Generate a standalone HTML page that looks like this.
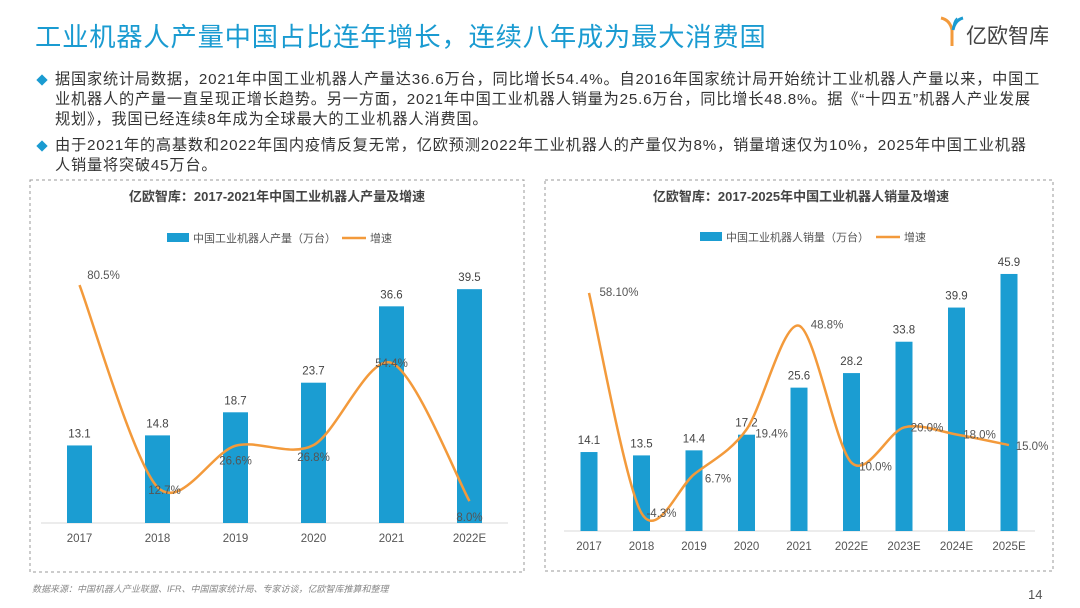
<!DOCTYPE html>
<html><head><meta charset="utf-8">
<style>
body{margin:0;width:1080px;height:608px;background:#fff;font-family:"Liberation Sans","Noto Sans CJK SC",sans-serif;position:relative;overflow:hidden}
.title{position:absolute;left:35px;top:15px;font-size:26.3px;color:#1a9bd1;letter-spacing:0.8px}
.logo{position:absolute;left:938px;top:14px}
.bul{position:absolute;left:38px;font-size:15.2px;color:#333;line-height:20px;white-space:nowrap;letter-spacing:0.8px}
.bul .d{position:absolute;left:0;top:6px;width:8px;height:8px;background:#1a9bd1;transform:rotate(45deg)}
.bul .t{margin-left:17px}
.src{position:absolute;left:32px;top:582px;font-size:9px;color:#888;font-style:italic}
.pg{position:absolute;left:1028px;top:587px;font-size:13px;color:#555}
svg text{font-family:"Liberation Sans","Noto Sans CJK SC",sans-serif}
</style></head><body>
<div class="title">工业机器人产量中国占比连年增长，连续八年成为最大消费国</div>
<div class="logo">
<svg width="110" height="34"><path d="M3 4 Q12 6 14 16 L14 32" stroke="#f39a3b" stroke-width="3" fill="none"/><path d="M25 4 Q17 6 15 16" stroke="#1a9bd1" stroke-width="3" fill="none"/><path d="M19 4 Q15 8 15 16" stroke="#1a9bd1" stroke-width="1.5" fill="none"/>
<text x="28" y="29" font-size="21" fill="#444">亿欧智库</text></svg></div>
<div class="bul" style="top:70px"><span class="d"></span><div class="t">据国家统计局数据，2021年中国工业机器人产量达36.6万台，同比增长54.4%。自2016年国家统计局开始统计工业机器人产量以来，中国工<br>业机器人的产量一直呈现正增长趋势。另一方面，2021年中国工业机器人销量为25.6万台，同比增长48.8%。据《“十四五”机器人产业发展<br>规划》，我国已经连续8年成为全球最大的工业机器人消费国。</div></div>
<div class="bul" style="top:136px"><span class="d"></span><div class="t">由于2021年的高基数和2022年国内疫情反复无常，亿欧预测2022年工业机器人的产量仅为8%，销量增速仅为10%，2025年中国工业机器<br>人销量将突破45万台。</div></div>
<svg id="c" width="1080" height="608" style="position:absolute;left:0;top:0">
<rect x="30" y="180" width="494" height="392" fill="none" stroke="#999" stroke-dasharray="3,3"/>
<rect x="545" y="180" width="508" height="391" fill="none" stroke="#999" stroke-dasharray="3,3"/>
</svg>
<div class="src">数据来源：中国机器人产业联盟、IFR、中国国家统计局、专家访谈，亿欧智库推算和整理</div>
<div class="pg">14</div>
<script>
const prodCats=["2017","2018","2019","2020","2021","2022E"];
const prodVals=[13.1,14.8,18.7,23.7,36.6,39.5];
const prodGrowth=[80.5,12.7,26.6,26.8,54.4,8.0];
const prodGrowthLabels=["80.5%","12.7%","26.6%","26.8%","54.4%","8.0%"];
const salesCats=["2017","2018","2019","2020","2021","2022E","2023E","2024E","2025E"];
const salesVals=[14.1,13.5,14.4,17.2,25.6,28.2,33.8,39.9,45.9];
const salesGrowth=[58.1,-4.3,6.7,19.4,48.8,10.0,20.0,18.0,15.0];
const salesGrowthLabels=["58.10%","-4.3%","6.7%","19.4%","48.8%","10.0%","20.0%","18.0%","15.0%"];
const NS="http://www.w3.org/2000/svg";
const svg=document.getElementById('c');
function mk(tag,at,txt){const e=document.createElementNS(NS,tag);for(const k in at)e.setAttribute(k,at[k]);if(txt!=null)e.textContent=txt;svg.appendChild(e);return e;}
function smooth(p){let d=`M${p[0][0]},${p[0][1]}`;const t=0.3;for(let i=0;i<p.length-1;i++){const p0=p[i-1]||p[i],p1=p[i],p2=p[i+1],p3=p[i+2]||p2;
d+=` C${p1[0]+(p2[0]-p0[0])*t/2},${p1[1]+(p2[1]-p0[1])*t/2} ${p2[0]-(p3[0]-p1[0])*t/2},${p2[1]-(p3[1]-p1[1])*t/2} ${p2[0]},${p2[1]}`;}return d;}
function chart(o){
 const xs=i=>o.x0+i*o.step, yb=v=>o.base-v*o.bs, yl=v=>o.lz-v*o.ls;
 let e=mk('text',{x:o.cx,y:o.ty,'text-anchor':'middle','font-size':13,'font-weight':'bold',fill:'#444'},o.title);
 
 e=mk('rect',{x:o.lgx,y:o.ly-5,width:22,height:9,fill:'#1b9dd2'});
 
 e=mk('text',{x:o.lgx+26,y:o.ly+4,'font-size':11,fill:'#555'},o.barName);
 
 e=mk('line',{x1:o.lgx2,x2:o.lgx2+24,y1:o.ly,y2:o.ly,stroke:'#f39a3b','stroke-width':2.5});
 
 e=mk('text',{x:o.lgx2+28,y:o.ly+4,'font-size':11,fill:'#555'},'增速');
 
 e=mk('line',{x1:o.ax0,x2:o.ax1,y1:o.base,y2:o.base,stroke:'#d9d9d9','stroke-width':1});
 
 o.cats.forEach((c,i)=>{
  const v=o.vals[i];
  e=mk('rect',{x:xs(i)-o.bw/2,y:yb(v),width:o.bw,height:o.base-yb(v),fill:'#1b9dd2'});
  
  e=mk('text',{x:xs(i),y:yb(v)-8,'text-anchor':'middle','font-size':11.5,fill:'#444'},String(v));
  
  e=mk('text',{x:xs(i),y:o.base+19,'text-anchor':'middle','font-size':11.5,fill:'#555'},c);
  
 });
 const pts=o.growth.map((g,i)=>[xs(i),yl(g)]);
 e=mk('path',{d:smooth(pts),fill:'none',stroke:'#f39a3b','stroke-width':2.5});
 
 o.growth.forEach((g,i)=>{
  const off=o.off[i];
  e=mk('text',{x:xs(i)+off[0],y:yl(g)+off[1],'text-anchor':'middle','font-size':11.5,fill:'#555'},o.glabels[i]);
  
 });
}
chart({id:'production',cats:prodCats,vals:prodVals,growth:prodGrowth,glabels:prodGrowthLabels,
 x0:79.5,step:78,bw:25,base:523,bs:5.92,lz:525,ls:2.98,ax0:41,ax1:508,
 title:'亿欧智库：2017-2021年中国工业机器人产量及增速',cx:277,ty:201,ly:238,lgx:167,lgx2:342,barName:'中国工业机器人产量（万台）',
 off:[[24,-6],[7,7],[0,19],[0,16],[0,4],[0,20]]});
chart({id:'sales',cats:salesCats,vals:salesVals,growth:salesGrowth,glabels:salesGrowthLabels,
 x0:589,step:52.5,bw:17,base:531,bs:5.6,lz:498,ls:3.53,ax0:564,ax1:1035,
 title:'亿欧智库：2017-2025年中国工业机器人销量及增速',cx:801,ty:201,ly:237,lgx:700,lgx2:876,barName:'中国工业机器人销量（万台）',
 off:[[30,3],[20,4],[24,8],[25,8],[28,3],[24,8],[23,4],[23,4],[23,5]]});
</script>
</body></html>
